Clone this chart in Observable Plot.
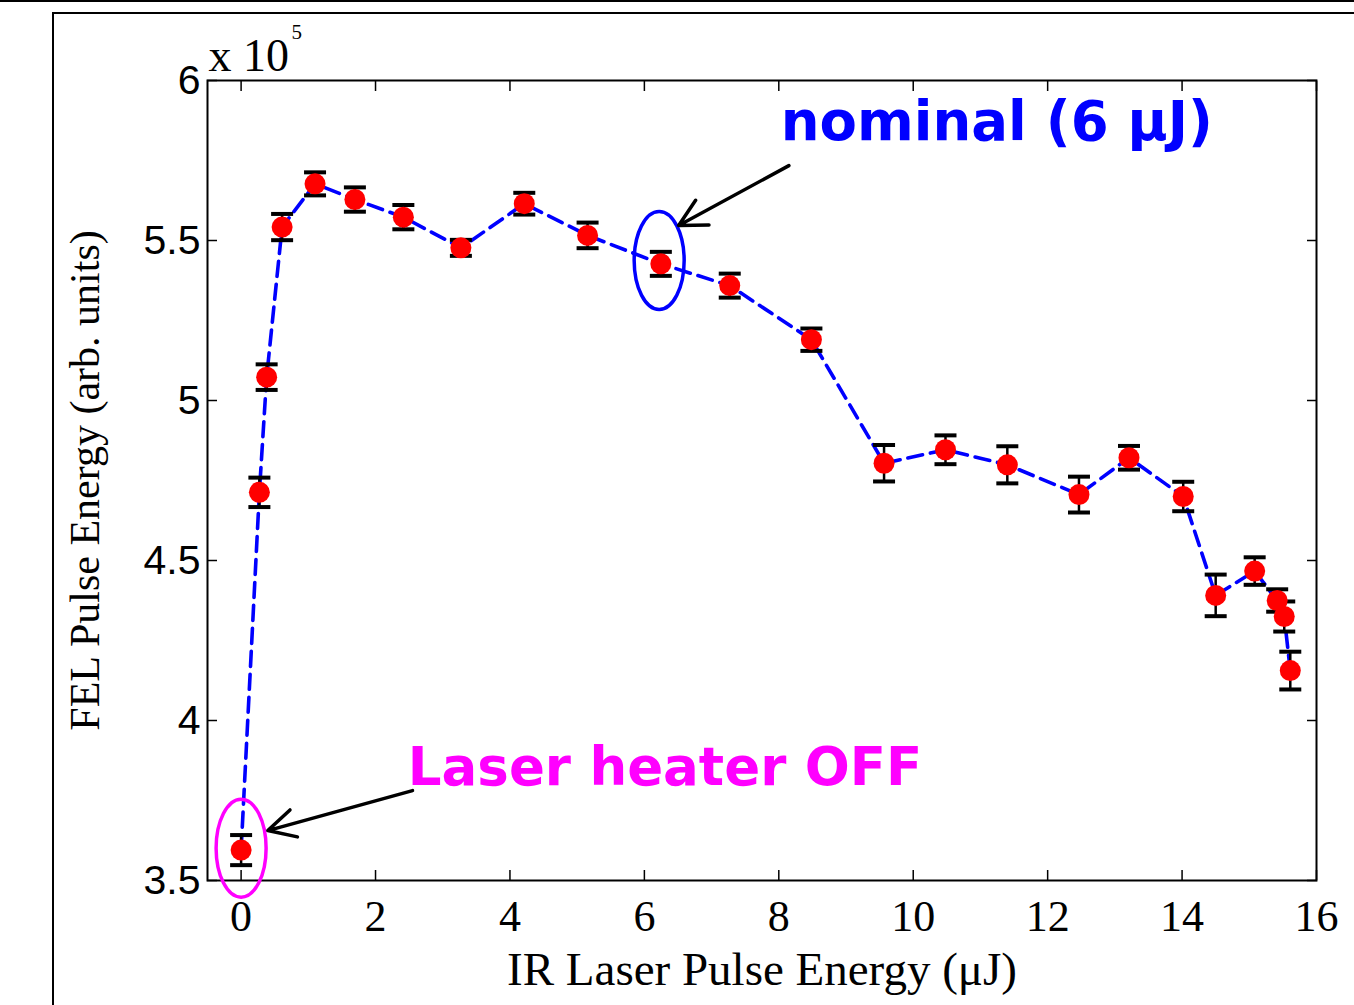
<!DOCTYPE html>
<html><head><meta charset="utf-8">
<script src="https://cdn.jsdelivr.net/npm/d3@7"></script>
<script src="https://cdn.jsdelivr.net/npm/@observablehq/plot@0.6"></script>
<style>
html,body{margin:0;padding:0;background:#fff;color:#000;}
#page{position:relative;width:1354px;height:1005px;overflow:hidden;background:#fff;}
#chart{position:absolute;left:0;top:0;}
#topline{position:absolute;left:0;top:0;width:1354px;height:0;border-top:2px solid #000;}
#box{position:absolute;left:52px;top:12px;width:1400px;height:1100px;border:2px solid #000;box-sizing:border-box;}
</style></head><body>
<div id="page"><div id="chart"></div><div id="topline"></div><div id="box"></div></div>
<script>
// IR laser pulse energy (µJ)
const laserEnergy = [0, 0.272, 0.38, 0.61, 1.10, 1.693, 2.414, 3.27, 4.213, 5.155, 6.245, 7.27, 8.485, 9.566, 10.48, 11.40, 12.466, 13.21, 14.017, 14.5, 15.08, 15.415, 15.52, 15.61];
// FEL pulse energy (x 10^5 arb. units)
const felEnergy = [3.595, 4.713, 5.073, 5.542, 5.677, 5.628, 5.573, 5.477, 5.615, 5.516, 5.427, 5.359, 5.19, 4.804, 4.846, 4.799, 4.706, 4.821, 4.70, 4.391, 4.467, 4.375, 4.325, 4.156];
// error bar half-widths (x 10^5)
const felError = [0.047, 0.046, 0.040, 0.041, 0.036, 0.038, 0.038, 0.025, 0.034, 0.040, 0.0375, 0.0375, 0.035, 0.057, 0.045, 0.058, 0.056, 0.037, 0.046, 0.065, 0.043, 0.035, 0.047, 0.059];

const xTicks = [0, 2, 4, 6, 8, 10, 12, 14, 16];
const yTicks = [3.5, 4, 4.5, 5, 5.5, 6];

const xLabel = "IR Laser Pulse Energy (\u03bcJ)";
const yLabel = "FEL Pulse Energy (arb. units)";
const expBase = "x 10";
const expPower = "5";

// annotations (data coordinates)
const annoTexts = ["nominal (6 \u03bcJ)", "Laser heater OFF"];
const annoTextX = [8.03, 2.48];
const annoTextY = [5.815, 3.80];
const annoSizes = [54.5, 53];
const annoColors = ["#0000ff", "#ff00ff"];
const ellipseX = [6.22, 0];
const ellipseY = [5.4375, 3.601];
const arrowX1 = [8.15, 2.55];
const arrowY1 = [5.734, 3.781];
const arrowX2 = [6.51, 0.397];
const arrowY2 = [5.547, 3.656];

const data = laserEnergy.map((x, i) => ({x, y: felEnergy[i], lo: felEnergy[i] - felError[i], hi: felEnergy[i] + felError[i]}));
const texts = annoTexts.map((t, i) => ({t, x: annoTextX[i], y: annoTextY[i], c: annoColors[i], s: annoSizes[i]}));
const ellipses = ellipseX.map((x, i) => ({x, y: ellipseY[i], c: annoColors[i]}));
const arrows = arrowX1.map((x1, i) => ({x1, y1: arrowY1[i], x2: arrowX2[i], y2: arrowY2[i]}));

const capSymbol = {draw(ctx) { ctx.moveTo(-11, 0); ctx.lineTo(11, 0); }};
const ellipseSymbol = {draw(ctx) {
  const a = 25, b = 49, k = 0.5523;
  ctx.moveTo(a, 0);
  ctx.bezierCurveTo(a, b * k, a * k, b, 0, b);
  ctx.bezierCurveTo(-a * k, b, -a, b * k, -a, 0);
  ctx.bezierCurveTo(-a, -b * k, -a * k, -b, 0, -b);
  ctx.bezierCurveTo(a * k, -b, a, -b * k, a, 0);
  ctx.closePath();
}};

const serif = "'Liberation Serif', 'Times New Roman', serif";
const sans = "'Liberation Sans', Arial, sans-serif";
const bold = "'DejaVu Sans', Verdana, sans-serif";

const plot = Plot.plot({
  width: 1354,
  height: 1005,
  marginLeft: 207,
  marginRight: 38,
  marginTop: 80,
  marginBottom: 125,
  style: {background: "transparent", color: "#000"},
  x: {domain: [-0.5, 16], ticks: xTicks},
  y: {domain: [3.5, 6], ticks: yTicks},
  marks: [
    Plot.axisX({anchor: "bottom", ticks: xTicks, tickSize: -10, fill: "none", stroke: "#000", strokeWidth: 1.5, label: null}),
    Plot.axisX({anchor: "top", ticks: xTicks, tickSize: -10, fill: "none", stroke: "#000", strokeWidth: 1.5, label: null}),
    Plot.axisY({anchor: "left", ticks: yTicks, tickSize: -10, fill: "none", stroke: "#000", strokeWidth: 1.5, label: null}),
    Plot.axisY({anchor: "right", ticks: yTicks, tickSize: -10, fill: "none", stroke: "#000", strokeWidth: 1.5, label: null}),
    Plot.axisX({anchor: "bottom", ticks: xTicks, tickSize: 0, tickPadding: 19, fontSize: 44, fontFamily: serif, fill: "#000", label: null, tickFormat: d => String(d)}),
    Plot.axisY({anchor: "left", ticks: yTicks, tickSize: 0, tickPadding: 7, fontSize: 41, fontFamily: sans, fill: "#000", label: null, tickFormat: d => String(d)}),
    Plot.frame({stroke: "#000", strokeWidth: 2}),
    Plot.line(data, {x: "x", y: "y", stroke: "#0000ff", strokeWidth: 3.6, strokeDasharray: "15,8"}),
    Plot.ruleX(data, {x: "x", y1: "lo", y2: "hi", stroke: "#000", strokeWidth: 2.5}),
    Plot.dot(data, {x: "x", y: "hi", symbol: capSymbol, stroke: "#000", strokeWidth: 4, fill: "none"}),
    Plot.dot(data, {x: "x", y: "lo", symbol: capSymbol, stroke: "#000", strokeWidth: 4, fill: "none"}),
    Plot.dot(data, {x: "x", y: "y", r: 10.5, fill: "#ff0000", stroke: "none"}),
    Plot.dot(ellipses, {x: "x", y: "y", symbol: ellipseSymbol, stroke: "c", strokeWidth: 3.5, fill: "none"}),
    Plot.arrow(arrows, {x1: "x1", y1: "y1", x2: "x2", y2: "y2", stroke: "#000", strokeWidth: 3.5, headLength: 13, headAngle: 55}),
    Plot.text(texts, {x: "x", y: "y", text: "t", fill: "c", fontSize: "s", fontWeight: "bold", fontFamily: bold, textAnchor: "start", lineAnchor: "bottom"}),
    Plot.text([expBase], {frameAnchor: "top-left", text: d => d, dx: 1, dy: -10, fontSize: 46, fontFamily: serif, textAnchor: "start", lineAnchor: "bottom", fill: "#000"}),
    Plot.text([expPower], {frameAnchor: "top-left", text: d => d, dx: 84, dy: -42, fontSize: 21, fontFamily: serif, textAnchor: "start", lineAnchor: "bottom", fill: "#000"}),
    Plot.text([xLabel], {frameAnchor: "bottom", text: d => d, dy: 104, fontSize: 47, fontFamily: serif, textAnchor: "middle", lineAnchor: "bottom", fill: "#000"}),
    Plot.text([yLabel], {frameAnchor: "left", text: d => d, dx: -109, rotate: -90, fontSize: 42, fontFamily: serif, textAnchor: "middle", lineAnchor: "bottom", fill: "#000"})
  ]
});
document.getElementById("chart").appendChild(plot);
</script>
</body></html>
